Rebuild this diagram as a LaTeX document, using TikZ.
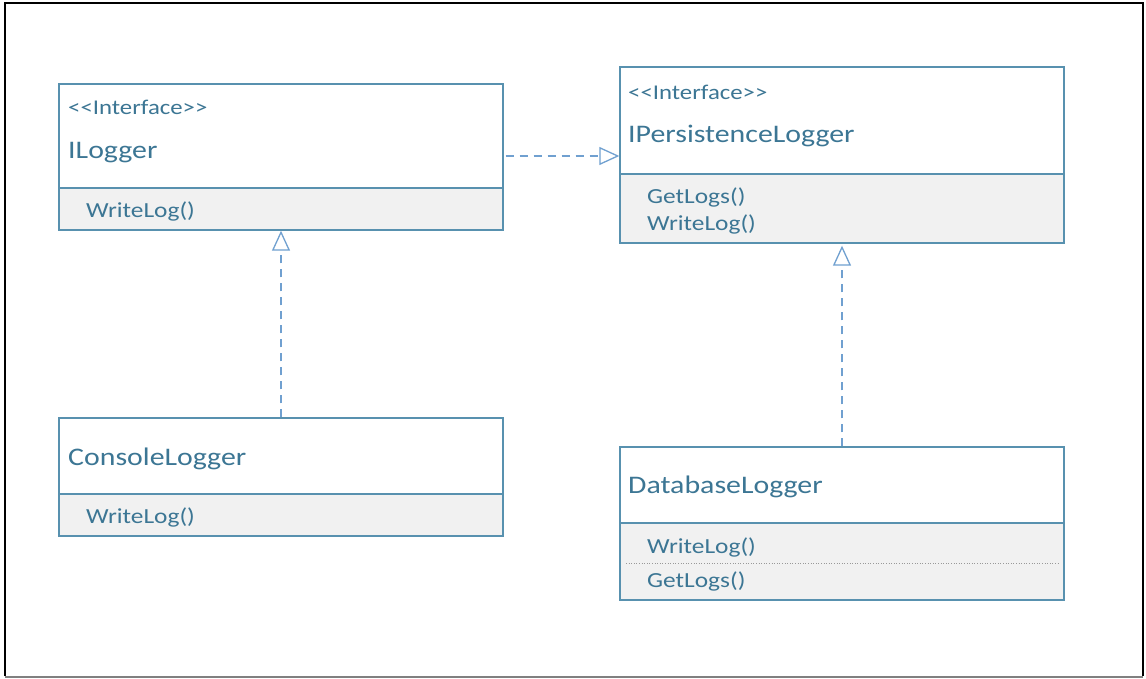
\documentclass[tikz,border=0pt]{standalone}
\usepackage{fontspec}
\setmainfont{Carlito}[FakeStretch=1.18]
\usetikzlibrary{arrows.meta,backgrounds}
\definecolor{bdr}{RGB}{88,145,175}
\definecolor{txt}{RGB}{60,118,148}
\definecolor{arr}{RGB}{112,160,208}
\definecolor{fillg}{RGB}{241,241,241}
\tikzset{
  cls/.style={draw=bdr, line width=1.4pt, inner sep=0pt, minimum width=444pt},
  stereo/.style={anchor=base west, inner sep=0pt, text=txt, font=\fontsize{21}{24}\selectfont},
  cname/.style={anchor=base west, inner sep=0pt, text=txt, font=\fontsize{25.3}{29}\selectfont},
  meth/.style={anchor=base west, inner sep=0pt, text=txt, font=\fontsize{21.5}{25}\selectfont},
  divline/.style={draw=bdr, line width=1.2pt},
  rel/.style={draw=arr, line width=1.3pt, dash pattern=on 8pt off 6pt,
    -{Triangle[open, length=20pt, width=18pt, line width=1.3pt]}}
}
\begin{document}
\begin{tikzpicture}[x=1pt,y=-1pt]
\useasboundingbox (0,0) rectangle (1146,678);
\begin{pgfonlayer}{background}
\fill[white] (0,0) rectangle (1146,678);
\end{pgfonlayer}
\draw[black, line width=2.5pt] (5,676) -- (5,3) -- (1143,3) -- (1143,676);
\draw[gray, line width=1.5pt] (5,677) -- (1143,677);

% class boxes
\node[cls, minimum height=146pt] (ilog) at (281,157) {};
\node[cls, minimum height=176pt] (ipl) at (842,155) {};
\node[cls, minimum height=118pt] (con) at (281,477) {};
\node[cls, minimum height=153pt] (db) at (842,523.5) {};

\begin{pgfonlayer}{background}
\fill[fillg] (ilog.west |- 0,188) rectangle (ilog.south east);
\fill[fillg] (ipl.west |- 0,174) rectangle (ipl.south east);
\fill[fillg] (con.west |- 0,494) rectangle (con.south east);
\fill[fillg] (db.west |- 0,523) rectangle (db.south east);
\end{pgfonlayer}

\draw[divline] (ilog.west |- 0,188) -- (ilog.east |- 0,188);
\draw[divline] (ipl.west |- 0,174) -- (ipl.east |- 0,174);
\draw[divline] (con.west |- 0,494) -- (con.east |- 0,494);
\draw[divline] (db.west |- 0,523) -- (db.east |- 0,523);
\draw[gray!80, line width=0.6pt, dotted] (626,563) -- (1058,563);

% texts
\node[stereo] (ilogst) at (68,114) {<{}<Interface>{}>};
\node[cname] (ilogn) at (68,158) {ILogger};
\node[meth] (ilogm) at (86,217) {WriteLog()};

\node[stereo] (iplst) at (628,99) {<{}<Interface>{}>};
\node[cname] (ipln) at (628,142) {IPersistenceLogger};
\node[meth] (iplm1) at (647,203) {GetLogs()};
\node[meth] (iplm2) at (647,230) {WriteLog()};

\node[cname] (conn) at (68,465) {ConsoleLogger};
\node[meth] (conm) at (86,523) {WriteLog()};

\node[cname] (dbn) at (628,493) {DatabaseLogger};
\node[meth] (dbm1) at (647,553) {WriteLog()};
\node[meth] (dbm2) at (647,587) {GetLogs()};

% relations
\draw[rel, shorten <=2pt] (ilog.east |- 0,156) -- (ipl.west |- 0,156);
\draw[rel] (con.north) -- (ilog.south);
\draw[rel, shorten >=2pt] (db.north) -- (ipl.south);
\end{tikzpicture}
\end{document}
